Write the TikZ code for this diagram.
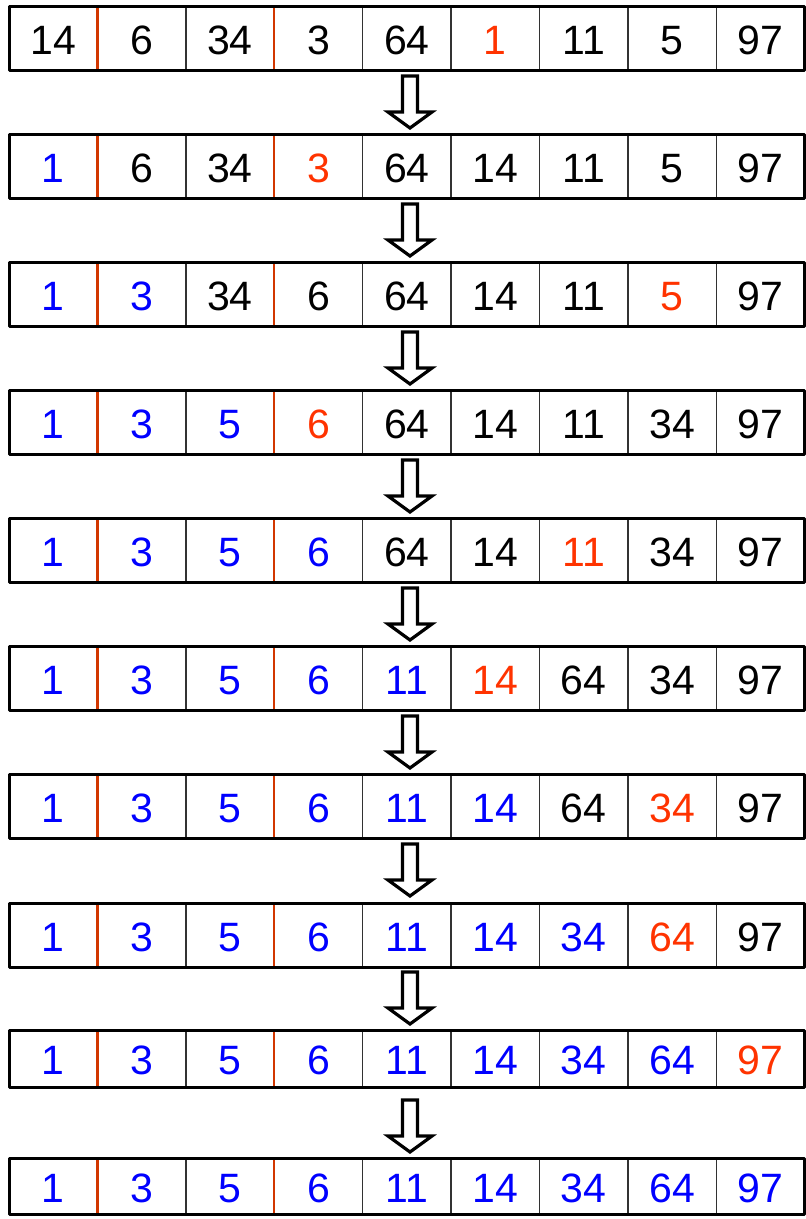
\documentclass[tikz,border=0pt]{standalone}
\usepackage{fontspec}
\setmainfont{Liberation Sans}
\usepackage{tikz}
\definecolor{keyred}{RGB}{255,51,0}
\definecolor{cutred}{RGB}{210,55,0}
\definecolor{gridgray}{RGB}{50,50,50}

\begin{document}
\begin{tikzpicture}[x=1pt,y=-1pt,
  num/.style={anchor=base,inner sep=0pt,font=\fontsize{41}{41}\selectfont},
  frame/.style={line width=3pt,line join=round},
  sep/.style={gridgray,line width=1.4pt},
  cut/.style={cutred,line width=2.4pt},
  downarrow/.pic={\draw[line width=3.2pt,fill=white] (-7.5,-26)--(7.5,-26)--(7.5,10)--(22,10)--(0,26)--(-22,10)--(-7.5,10)--cycle;}]
  \useasboundingbox (0,0) rectangle (806,1219);
  \foreach \r/\t/\h/\m/\vals in {
      1/6/64/6/{14,6,34,3,64,1,11,5,97},
      2/134/64/4/{1,6,34,3,64,14,11,5,97},
      3/262/64/8/{1,3,34,6,64,14,11,5,97},
      4/390/64/4/{1,3,5,6,64,14,11,34,97},
      5/518/64/7/{1,3,5,6,64,14,11,34,97},
      6/646/64/6/{1,3,5,6,11,14,64,34,97},
      7/774/64/8/{1,3,5,6,11,14,64,34,97},
      8/903/64/8/{1,3,5,6,11,14,34,64,97},
      9/1030/57/9/{1,3,5,6,11,14,34,64,97},
      10/1158/56/0/{1,3,5,6,11,14,34,64,97}}{
    \foreach \v [count=\i] in \vals {
      \ifnum\i<\r \def\c{blue}\else\ifnum\i=\m \def\c{keyred}\else\def\c{black}\fi\fi
      \node[num,text=\c] (n\r-\i) at ({9+88.4*(\i-0.5)},\t+\h/2+16) {\v};
    }
    \foreach \i in {3,5,6,7,8,9}
      \draw[sep] ({9+88.4*(\i-1)},\t) -- ++(0,\h);
    \foreach \i in {2,4}
      \draw[cut] ({9+88.4*(\i-1)},\t) -- ++(0,\h);
    \draw[frame] (9,\t) rectangle (804.6,\t+\h);
  }
  \foreach \r in {1,...,9}
    \pic at (410,{102+128*(\r-1)}) {downarrow};
\end{tikzpicture}
\end{document}
